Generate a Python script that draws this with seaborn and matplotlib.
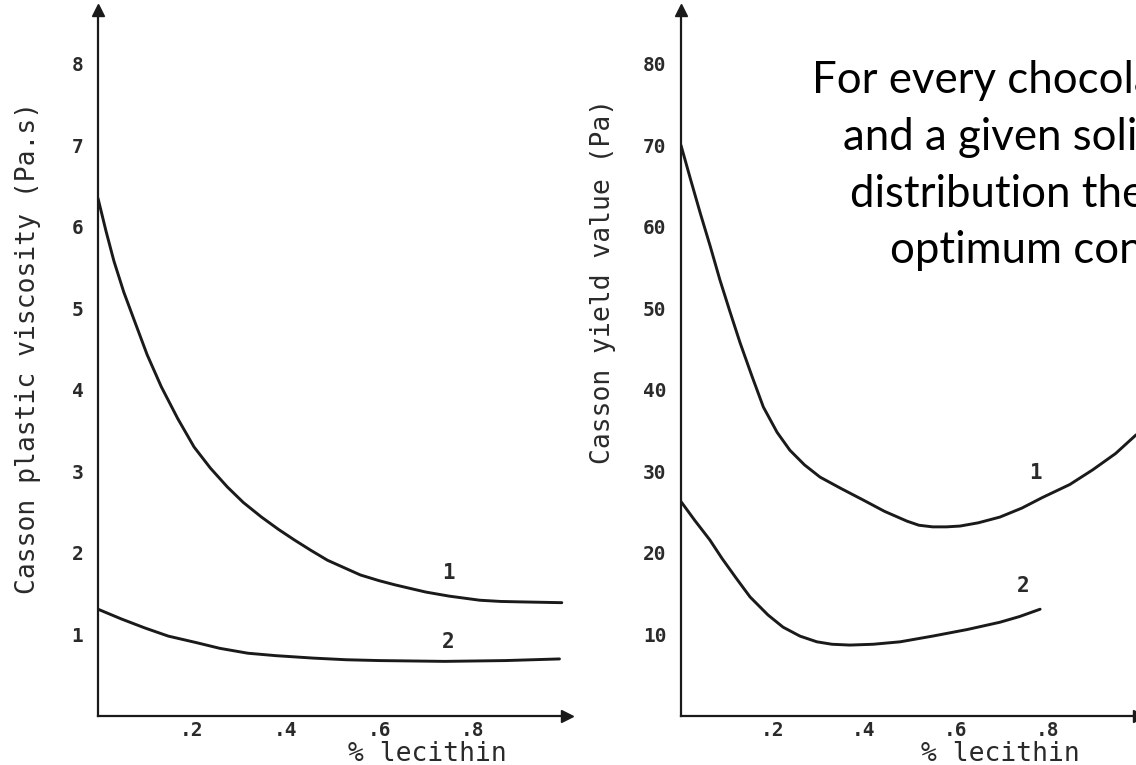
import matplotlib
matplotlib.use("Agg")
import matplotlib.pyplot as plt
import pandas as pd
import seaborn as sns

# Casson plastic viscosity (Pa.s) against % lecithin, chocolates 1 and 2
visc_x1 = [0.0, 0.017, 0.034, 0.055, 0.077, 0.105, 0.135, 0.17, 0.205, 0.24, 0.276, 0.31, 0.349,
           0.385, 0.419, 0.455, 0.49, 0.525, 0.56, 0.60, 0.633, 0.67, 0.70, 0.75, 0.815, 0.86, 0.90, 0.99]
visc_y1 = [6.35, 5.95, 5.58, 5.20, 4.86, 4.43, 4.04, 3.65, 3.30, 3.04, 2.81, 2.62, 2.44,
           2.29, 2.16, 2.03, 1.91, 1.82, 1.73, 1.66, 1.61, 1.56, 1.52, 1.47, 1.42, 1.405, 1.40, 1.39]
visc_x2 = [0.0, 0.05, 0.10, 0.15, 0.21, 0.26, 0.32, 0.38, 0.46, 0.53, 0.60, 0.74, 0.87, 0.985]
visc_y2 = [1.31, 1.19, 1.08, 0.98, 0.90, 0.83, 0.77, 0.74, 0.71, 0.69, 0.68, 0.67, 0.68, 0.70]

# Casson yield value (Pa) against % lecithin
yield_x1 = [0.0, 0.021, 0.042, 0.064, 0.085, 0.107, 0.129, 0.155, 0.18, 0.21, 0.238, 0.27, 0.304,
            0.35, 0.398, 0.445, 0.494, 0.52, 0.55, 0.58, 0.61, 0.65, 0.697, 0.745, 0.79, 0.85, 0.90,
            0.95, 0.995]
yield_y1 = [70.0, 65.8, 61.7, 57.6, 53.5, 49.6, 45.8, 41.7, 37.9, 34.8, 32.6, 30.8, 29.3,
            27.9, 26.5, 25.1, 23.9, 23.4, 23.2, 23.2, 23.3, 23.7, 24.4, 25.5, 26.8, 28.4, 30.2,
            32.2, 34.5]
yield_x2 = [0.0, 0.03, 0.063, 0.09, 0.122, 0.151, 0.19, 0.223, 0.26, 0.297, 0.33, 0.369, 0.42,
            0.479, 0.55, 0.625, 0.697, 0.74, 0.785]
yield_y2 = [26.3, 24.0, 21.6, 19.3, 16.8, 14.6, 12.4, 10.9, 9.8, 9.1, 8.8, 8.7, 8.8,
            9.1, 9.8, 10.6, 11.5, 12.2, 13.1]

x_ticks = [0.2, 0.4, 0.6, 0.8]
x_tick_labels = [".2", ".4", ".6", ".8"]
visc_ticks = [1, 2, 3, 4, 5, 6, 7, 8]
yield_ticks = [10, 20, 30, 40, 50, 60, 70, 80]

note_lines = [
    "For every chocolate recipe",
    "and a given solid particle size",
    "distribution there is an",
    "optimum concentration of lecithin",
]

visc = pd.concat([
    pd.DataFrame({"lecithin": visc_x1, "value": visc_y1, "curve": "1"}),
    pd.DataFrame({"lecithin": visc_x2, "value": visc_y2, "curve": "2"}),
])
yld = pd.concat([
    pd.DataFrame({"lecithin": yield_x1, "value": yield_y1, "curve": "1"}),
    pd.DataFrame({"lecithin": yield_x2, "value": yield_y2, "curve": "2"}),
])

sns.set_style("white")
plt.rcParams["font.family"] = ["DejaVu Sans Mono"]

W, H = 1136, 765
fig = plt.figure(figsize=(W / 100, H / 100), dpi=100)
ax1 = fig.add_axes([98 / W, 49 / H, 468.5 / W, 706 / H])
ax2 = fig.add_axes([681 / W, 49 / H, 457.5 / W, 706 / H])

ink = "#1a1a1a"
tick_font = dict(family="DejaVu Sans Mono", size=14, weight="bold", color="#2a2a2a")
label_font = dict(family="DejaVu Sans Mono", size=19, color="#2a2a2a")

for ax, df, ymax, yticks in [(ax1, visc, 8.66, visc_ticks), (ax2, yld, 86.6, yield_ticks)]:
    sns.lineplot(data=df, x="lecithin", y="value", units="curve", estimator=None,
                 color=ink, linewidth=2.1, ax=ax, legend=False)
    ax.set_xlim(0, 1.0)
    ax.set_ylim(0, ymax)
    ax.set_xticks(x_ticks)
    ax.set_xticklabels(x_tick_labels, **tick_font)
    ax.set_yticks(yticks)
    ax.set_yticklabels([str(t) for t in yticks], **tick_font)
    for side in ("top", "right"):
        ax.spines[side].set_visible(False)
    for side in ("left", "bottom"):
        ax.spines[side].set_color(ink)
        ax.spines[side].set_linewidth(1.6)
    ax.tick_params(direction="inout", length=5, width=1.3, color=ink)
    ax.tick_params(axis="y", pad=8)
    ax.tick_params(axis="x", pad=1)
    # arrowheads at the ends of both axes
    ax.plot(1, 0, ">", color=ink, markersize=8, transform=ax.get_yaxis_transform(), clip_on=False)
    ax.plot(0, 1, "^", color=ink, markersize=8, transform=ax.get_xaxis_transform(), clip_on=False)
    ax.set_xlabel("% lecithin", **label_font)
    ax.set_ylabel("")

ax1.xaxis.set_label_coords(0.702, -0.035)
ax2.xaxis.set_label_coords(0.697, -0.035)

ax1.text(-0.149, 0.521, "Casson plastic viscosity (Pa.s)", rotation=90, ha="center", va="center",
         transform=ax1.transAxes, **label_font)
ax2.text(-0.170, 0.615, "Casson yield value (Pa)", rotation=90, ha="center", va="center",
         transform=ax2.transAxes, **label_font)

curve_font = dict(family="DejaVu Sans Mono", size=15, weight="bold", color="#2a2a2a",
                  ha="center", va="center")
ax1.text(0.747, 1.75, "1", **curve_font)
ax1.text(0.747, 0.91, "2", **curve_font)
ax2.text(0.774, 29.8, "1", **curve_font)
ax2.text(0.748, 16.0, "2", **curve_font)

# explanatory note at the top right
note_x = [812, 843, 850, 890]
note_base = [93, 150, 207, 263]
for txt, xp, yp in zip(note_lines, note_x, note_base):
    fig.text(xp / W, 1 - yp / H, txt, ha="left", va="baseline",
             family=["Lato", "DejaVu Sans"], size=31.5, color="black")

fig.savefig("out.png", dpi=100)
